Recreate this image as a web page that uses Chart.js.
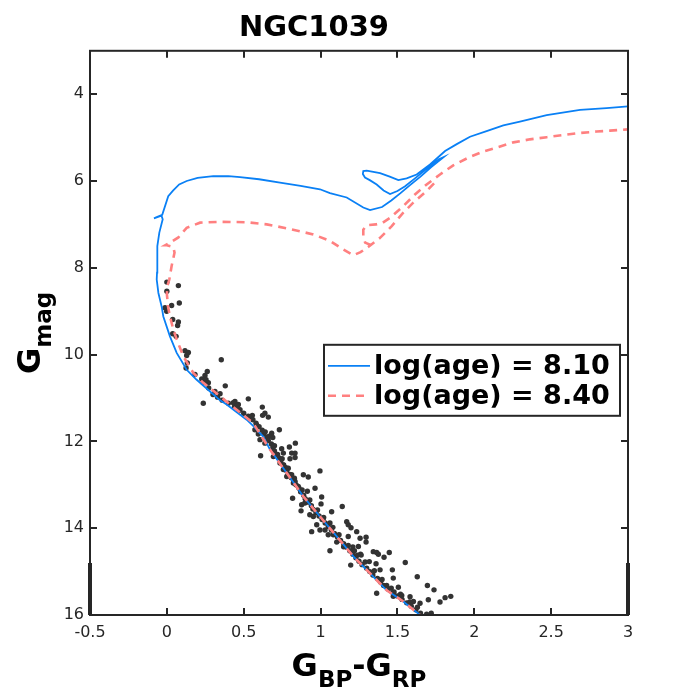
<!DOCTYPE html>
<html><head><meta charset="utf-8">
<script src="https://cdn.jsdelivr.net/npm/chart.js@4.4.1/dist/chart.umd.min.js"></script>
<style>html,body{margin:0;padding:0;background:#fff;}#wrap{width:694px;height:694px;}</style>
</head><body><div id="wrap"><canvas id="c" width="694" height="694"></canvas></div>
<script>
const chartTitle = 'NGC1039';
const xTicks = [-0.5, 0, 0.5, 1, 1.5, 2, 2.5, 3];
const yTicks = [4, 6, 8, 10, 12, 14, 16];
const legendLabels = ['log(age) = 8.10', 'log(age) = 8.40'];

// Isochrone log(age)=8.10
const isoBlueX = [1.68,1.647,1.538,1.43,1.322,1.213,1.105,0.996,0.888,0.78,0.671,0.627,0.563,0.519,0.389,0.346,0.281,0.194,0.129,0.064,0.02,-0.023,-0.034,-0.055,-0.066,-0.064,-0.062,-0.049,-0.027,-0.035,-0.084,-0.07,-0.03,0.009,0.04,0.08,0.129,0.2,0.302,0.4,0.476,0.6,0.736,0.87,0.996,1.061,1.17,1.278,1.322,1.40,1.46,1.52,1.58,1.65,1.72,1.80,1.77,1.69,1.61,1.55,1.50,1.452,1.41,1.365,1.32,1.289,1.275,1.278,1.30,1.387,1.45,1.506,1.56,1.625,1.712,1.81,1.886,1.972,2.08,2.189,2.297,2.471,2.688,2.86,3.0,3.05];
const isoBlueY = [16.1,16.0,15.69,15.43,15.04,14.65,14.19,13.73,13.27,12.73,12.19,11.89,11.65,11.5,11.15,11.055,10.85,10.58,10.35,9.96,9.58,9.12,8.89,8.58,8.27,8.11,7.5,7.19,6.88,6.80,6.86,6.84,6.78,6.35,6.22,6.08,6.0,5.93,5.89,5.89,5.91,5.96,6.04,6.11,6.19,6.28,6.38,6.61,6.67,6.60,6.45,6.28,6.10,5.90,5.68,5.45,5.50,5.72,5.95,6.12,6.23,6.30,6.22,6.08,5.98,5.92,5.84,5.77,5.76,5.82,5.90,5.98,5.94,5.85,5.62,5.31,5.15,4.98,4.85,4.72,4.63,4.48,4.36,4.32,4.28,4.27];

// Isochrone log(age)=8.40 (null = break in the curve)
const isoRedX = [1.68,1.647,1.538,1.43,1.322,1.213,1.105,0.996,0.888,0.78,0.671,0.615,0.562,0.454,0.346,0.237,0.172,0.107,0.064,0.042,0.02,0.008,0.0,0.005,0.016,0.031,0.05,0.042,0.0,-0.01,0.03,0.075,0.129,0.216,0.346,0.519,0.65,0.78,0.953,1.061,1.148,1.213,1.26,1.31,1.387,1.463,1.538,1.603,1.69,1.74,null,1.33,1.29,1.278,1.278,1.30,1.36,1.40,1.452,1.538,1.614,1.69,1.777,1.863,1.962,2.059,2.146,2.254,2.362,2.471,2.579,2.666,2.796,2.883,3.0,3.05];
const isoRedY = [16.1,16.0,15.69,15.43,15.04,14.65,14.19,13.73,13.27,12.73,12.19,11.88,11.58,11.27,10.96,10.65,10.42,10.04,9.65,9.42,9.12,8.9,8.6,8.4,8.27,7.96,7.65,7.52,7.48,7.48,7.40,7.30,7.08,6.96,6.94,6.95,7.0,7.09,7.23,7.38,7.58,7.71,7.64,7.52,7.31,7.04,6.73,6.5,6.23,6.05,null,7.48,7.42,7.28,7.12,7.02,7.0,6.97,6.85,6.58,6.31,6.08,5.85,5.64,5.46,5.32,5.23,5.11,5.04,4.99,4.94,4.9,4.86,4.84,4.81,4.80];

// Cluster members
const starBpRp = [
 0.0,0.075,0.0,0.081,-0.012,0.031,-0.001,0.038,0.075,0.07,0.038,0.06,0.118,0.14,0.129,0.133,0.125,0.354,0.183,0.263,0.248,0.227,0.255,0.27,0.237,0.272,0.38,0.313,0.346,0.53,0.237,
 0.443,0.465,0.432,0.476,0.556,0.621,0.638,0.623,0.66,0.584,0.573,0.595,0.732,0.682,0.689,0.667,0.606,0.638,0.836,0.797,0.747,0.758,0.812,0.834,0.61,0.693,0.801,0.834,0.736,0.758,0.78,0.996,0.888,0.92,0.812,0.834,
 0.758,0.78,0.823,0.855,0.914,0.964,0.818,1.007,0.877,0.898,1.003,0.873,1.141,1.072,0.93,0.953,1.018,1.061,1.17,1.18,1.198,0.975,1.029,0.996,0.942,1.235,1.083,1.05,1.18,1.257,1.296,1.296,1.15,1.21,1.246,1.061,1.22,1.343,1.365,1.447,1.26,
 1.105,1.264,1.376,1.413,1.196,1.317,1.361,1.551,1.387,1.467,1.473,1.629,1.43,1.365,1.478,1.506,1.473,1.528,1.695,1.738,1.582,1.604,1.647,1.701,1.777,1.81,1.847,1.69,1.72,
 0.30,0.33,0.36,0.40,0.44,0.47,0.50,0.53,0.56,0.58,0.60,0.62,0.63,0.65,0.66,0.68,0.69,0.70,0.72,0.73,0.74,0.76,0.77,0.78,0.80,0.81,0.83,0.84,0.86,0.87,0.89,0.90,0.92,0.94,0.95,0.97,0.99,1.01,1.03,1.05,1.07,1.09,1.11,1.13,1.15,1.17,1.19,1.21,1.23,1.25,1.27,1.30,1.32,1.34,1.37,1.39,1.41,1.44,1.47,1.50,1.53,1.56,1.59,1.62,1.65,
 0.46,0.55,0.64,0.70,0.75,0.79,0.83,0.88,0.93,0.98,1.02,1.08,1.12,1.18,1.24,1.29,1.35,1.40,1.46,1.52,1.58,1.63];
const starGmag = [
 8.33,8.41,8.54,8.81,8.92,8.87,9.0,9.19,9.25,9.33,9.52,9.58,9.91,9.95,10.02,10.19,10.31,10.12,10.46,10.39,10.48,10.56,10.58,10.65,10.65,10.77,10.72,10.85,10.9,11.02,11.12,
 11.08,11.15,11.11,11.27,11.4,11.21,11.35,11.4,11.44,11.62,11.73,11.83,11.73,11.81,11.91,11.88,11.96,12.04,12.04,12.13,12.17,12.27,12.27,12.27,12.33,12.35,12.4,12.37,12.5,12.54,12.62,12.68,12.77,12.82,12.77,12.92,
 12.65,12.81,12.96,13.04,13.15,13.08,13.31,13.28,13.46,13.42,13.44,13.6,13.5,13.62,13.69,13.73,13.77,13.88,13.85,13.92,13.99,13.92,14.04,14.04,14.08,14.08,14.15,14.15,14.19,14.23,14.21,14.32,14.43,14.43,14.42,14.52,14.52,14.54,14.56,14.56,14.6,
 14.32,14.62,14.6,14.67,14.85,14.77,14.82,14.79,14.96,14.96,15.15,15.12,15.32,15.5,15.47,15.36,15.57,15.55,15.32,15.42,15.58,15.69,15.73,15.65,15.7,15.6,15.57,15.98,15.96,
 10.92,10.98,11.05,11.12,11.20,11.28,11.35,11.42,11.50,11.58,11.66,11.74,11.82,11.90,11.98,12.06,12.14,12.22,12.30,12.38,12.46,12.54,12.60,12.68,12.76,12.84,12.92,13.00,13.08,13.16,13.24,13.32,13.40,13.48,13.56,13.64,13.72,13.80,13.88,13.96,14.04,14.12,14.20,14.28,14.36,14.44,14.52,14.60,14.68,14.76,14.84,14.92,15.00,15.08,15.16,15.24,15.32,15.40,15.48,15.56,15.64,15.72,15.80,15.88,15.96,
 11.18,11.45,11.78,12.10,12.40,12.62,12.85,13.12,13.35,13.58,13.75,13.98,14.15,14.40,14.62,14.78,14.98,15.18,15.38,15.52,15.70,15.82];

const toPts = (xs, ys) => xs.map((x, i) => ({x: x, y: ys[i]}));

const FONT = 'DejaVu Sans';
const decor = {
  id: 'decor',
  afterDraw(chart) {
    const {ctx, chartArea: a, scales: {x, y}} = chart;
    ctx.save();
    // frame
    ctx.strokeStyle = '#262626'; ctx.lineWidth = 2;
    ctx.strokeRect(a.left, a.top, a.right - a.left, a.bottom - a.top);
    ctx.fillStyle = '#262626';
    ctx.fillRect(a.left - 2, a.bottom - 52, 4, 52);
    ctx.fillRect(a.right - 2, a.bottom - 52, 4, 52);
    // inward ticks
    ctx.beginPath();
    xTicks.forEach(v => { const p = Math.round(x.getPixelForValue(v));
      ctx.moveTo(p, a.bottom); ctx.lineTo(p, a.bottom - 7);
      ctx.moveTo(p, a.top); ctx.lineTo(p, a.top + 7); });
    yTicks.forEach(v => { const p = Math.round(y.getPixelForValue(v));
      ctx.moveTo(a.left, p); ctx.lineTo(a.left + 7, p);
      ctx.moveTo(a.right, p); ctx.lineTo(a.right - 7, p); });
    ctx.stroke();

    // legend
    const lx = a.left + 234, ly = a.top + 294, lw = 296, lh = 71;
    ctx.fillStyle = '#fff'; ctx.fillRect(lx, ly, lw, lh);
    ctx.strokeStyle = '#262626'; ctx.lineWidth = 2; ctx.strokeRect(lx, ly, lw, lh);
    const ds = chart.data.datasets;
    [ds[0], ds[1]].forEach((d, i) => {
      const yy = ly + 21 + i * 30;
      ctx.beginPath(); ctx.strokeStyle = d.borderColor; ctx.lineWidth = d.borderWidth;
      ctx.setLineDash(d.borderDash || []);
      ctx.moveTo(lx + 4, yy); ctx.lineTo(lx + 46, yy); ctx.stroke();
      ctx.setLineDash([]);
      ctx.fillStyle = '#000'; ctx.font = 'bold 27px "' + FONT + '"';
      ctx.textBaseline = 'middle'; ctx.textAlign = 'left';
      ctx.fillText(d.label, lx + 50, yy + 1);
    });

    // axis titles with subscripts
    const drawSub = (parts, cx, base) => {
      const big = 'bold 32px "' + FONT + '"', small = 'bold 23px "' + FONT + '"';
      let w = 0;
      parts.forEach(p => { ctx.font = p[1] ? small : big; w += ctx.measureText(p[0]).width; });
      let xx = cx - w / 2;
      ctx.textAlign = 'left'; ctx.textBaseline = 'alphabetic'; ctx.fillStyle = '#000';
      parts.forEach(p => { ctx.font = p[1] ? small : big;
        ctx.fillText(p[0], xx, base + (p[1] ? 11 : 0)); xx += ctx.measureText(p[0]).width; });
    };
    const cx = (a.left + a.right) / 2, cy = (a.top + a.bottom) / 2;
    drawSub([['G', 0], ['BP', 1], ['-', 0], ['G', 0], ['RP', 1]], cx, 676);
    ctx.save(); ctx.translate(40, cy); ctx.rotate(-Math.PI / 2);
    drawSub([['G', 0], ['mag', 1]], 0, 0);
    ctx.restore();
    ctx.restore();
  }
};

new Chart(document.getElementById('c'), {
  type: 'scatter',
  data: {
    datasets: [
      { label: legendLabels[0], data: toPts(isoBlueX, isoBlueY), showLine: true, pointRadius: 0,
        borderColor: '#0a80f5', borderWidth: 1.8, fill: false, tension: 0, order: 1, clip: 0, spanGaps: false },
      { label: legendLabels[1], data: toPts(isoRedX, isoRedY), showLine: true, pointRadius: 0,
        borderColor: '#ff8080', borderWidth: 2.6, borderDash: [8, 6], fill: false, tension: 0, order: 0, clip: 0, spanGaps: false },
      { label: 'members', data: toPts(starBpRp, starGmag), pointRadius: 2.7, pointBorderWidth: 0,
        backgroundColor: '#333333', borderColor: '#333333', order: 2 }
    ]
  },
  options: {
    responsive: false, animation: false, devicePixelRatio: 1,
    layout: { padding: { left: 0, right: 66, top: 0, bottom: 0 } },
    plugins: {
      legend: { display: false }, tooltip: { enabled: false },
      title: { display: true, text: chartTitle, color: '#000',
        font: { family: FONT, size: 29, weight: 'bold' }, padding: { top: 11, bottom: 5 } }
    },
    scales: {
      x: { type: 'linear', min: -0.5, max: 3,
        grid: { display: false, drawTicks: false }, border: { display: false },
        ticks: { color: '#262626', font: { family: FONT, size: 16 }, padding: 8, maxRotation: 0, autoSkip: false,
          callback: v => String(v) },
        afterBuildTicks: s => { s.ticks = xTicks.map(v => ({ value: v })); },
        afterFit: s => { s.height = 79; } },
      y: { type: 'linear', min: 3, max: 16, reverse: true,
        grid: { display: false, drawTicks: false }, border: { display: false },
        ticks: { color: '#262626', font: { family: FONT, size: 16 }, padding: 6, autoSkip: false,
          callback: v => String(v) },
        afterBuildTicks: s => { s.ticks = yTicks.map(v => ({ value: v })); },
        afterFit: s => { s.width = 90; } }
    }
  },
  plugins: [decor]
});
</script></body></html>
